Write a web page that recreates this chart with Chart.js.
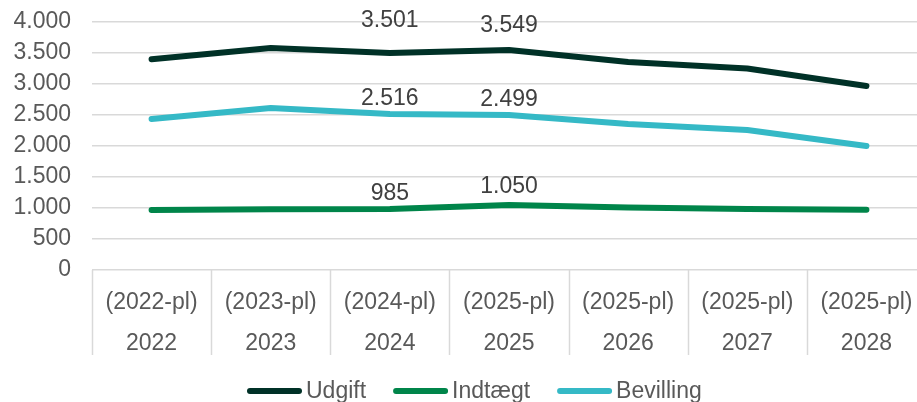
<!DOCTYPE html>
<html>
<head>
<meta charset="utf-8">
<script src="https://cdn.jsdelivr.net/npm/chart.js@4"></script>
<style>
    html, body { margin: 0; padding: 0; background: #fff; overflow: hidden; }
    #wrap { width: 926px; height: 402px; position: relative; }
</style>
</head>
<body>
<div id="wrap"><canvas id="chart"></canvas></div>
<script>
const years = ['2022', '2023', '2024', '2025', '2026', '2027', '2028'];
const priceLevels = ['(2022-pl)', '(2023-pl)', '(2024-pl)', '(2025-pl)', '(2025-pl)', '(2025-pl)', '(2025-pl)'];

const udgift = [3400, 3580, 3501, 3549, 3355, 3250, 2968];
const indtaegt = [968, 980, 985, 1050, 1010, 985, 972];
const bevilling = [2435, 2613, 2516, 2499, 2355, 2258, 2000];

// kun 2024 og 2025 har værdimærker
const labelIndexes = [2, 3];

const FONT = 'Liberation Sans, Arial, sans-serif';

function formatDa(v) {
    return String(Math.round(v)).replace(/\B(?=(\d{3})+(?!\d))/g, '.');
}

const valueLabels = {
    id: 'valueLabels',
    afterDatasetsDraw(chart, args, opts) {
        const ctx = chart.ctx;
        ctx.save();
        ctx.font = '23px ' + FONT;
        ctx.fillStyle = '#404040';
        ctx.textAlign = 'center';
        ctx.textBaseline = 'middle';
        chart.data.datasets.forEach((ds, di) => {
            const meta = chart.getDatasetMeta(di);
            labelIndexes.forEach((i, k) => {
                const pt = meta.data[i];
                const off = opts.offsets[di][k];
                ctx.fillText(formatDa(ds.data[i]), pt.x, pt.y - off);
            });
        });
        ctx.restore();
    },
};

const categoryLines = {
    id: 'categoryLines',
    beforeDraw(chart) {
        const x = chart.scales.x;
        const ctx = chart.ctx;
        const half = (x.getPixelForValue(1) - x.getPixelForValue(0)) / 2;
        const top = chart.chartArea.bottom;
        ctx.save();
        ctx.strokeStyle = '#d9d9d9';
        ctx.lineWidth = 1.5;
        ctx.beginPath();
        for (let i = 0; i <= years.length; i++) {
            const px = Math.round(x.getPixelForValue(0) - half + i * half * 2) + 0.5;
            ctx.moveTo(px, top);
            ctx.lineTo(px, top + 85);
        }
        ctx.stroke();
        ctx.restore();
    },
};

const lineLegend = {
    id: 'lineLegend',
    afterDraw(chart) {
        const ctx = chart.ctx;
        const y = 391;
        let x = 247;
        ctx.save();
        ctx.font = '23px ' + FONT;
        ctx.textBaseline = 'middle';
        ctx.textAlign = 'left';
        chart.data.datasets.forEach((ds) => {
            ctx.strokeStyle = ds.borderColor;
            ctx.lineWidth = 6;
            ctx.lineCap = 'round';
            ctx.beginPath();
            ctx.moveTo(x + 3, y);
            ctx.lineTo(x + 52, y);
            ctx.stroke();
            ctx.fillStyle = '#595959';
            ctx.fillText(ds.label, x + 59, y + 1);
            x += 59 + ctx.measureText(ds.label).width + 27;
        });
        ctx.restore();
    },
};

const lineStyle = {
    borderWidth: 6,
    borderCapStyle: 'round',
    borderJoinStyle: 'round',
    pointRadius: 0,
    tension: 0,
    clip: false,
};

new Chart(document.getElementById('chart'), {
    type: 'line',
    data: {
        labels: years.map((y, i) => [priceLevels[i], y]),
        datasets: [
            { label: 'Udgift', data: udgift, borderColor: '#003127', ...lineStyle },
            { label: 'Indtægt', data: indtaegt, borderColor: '#00854a', ...lineStyle },
            { label: 'Bevilling', data: bevilling, borderColor: '#35b9c6', ...lineStyle },
        ],
    },
    options: {
        responsive: true,
        maintainAspectRatio: false,
        animation: false,
        layout: { padding: { top: 22, right: 0, bottom: 0, left: 0 } },
        plugins: {
            legend: { display: false },
            tooltip: { enabled: false },
            valueLabels: { offsets: [[32, 24], [15, 18], [15, 15]] },
        },
        scales: {
            x: {
                offset: true,
                grid: { display: false },
                border: { display: false },
                ticks: {
                    color: '#595959',
                    font: { family: FONT, size: 23, lineHeight: 1.78 },
                    padding: 4,
                    maxRotation: 0,
                    autoSkip: false,
                },
                afterFit: (scale) => { scale.height = 132; },
            },
            y: {
                min: 0,
                max: 4000,
                border: { display: false },
                grid: { color: '#d9d9d9', lineWidth: 1.5, drawTicks: false },
                ticks: {
                    stepSize: 500,
                    autoSkip: false,
                    color: '#595959',
                    padding: 21,
                    font: { family: FONT, size: 23 },
                    callback: (v) => formatDa(v),
                },
                afterFit: (scale) => {
                    scale.width = 92;
                    scale.paddingTop = 0;
                    scale.paddingBottom = 0;
                },
            },
        },
    },
    plugins: [valueLabels, categoryLines, lineLegend],
});
</script>
</body>
</html>
